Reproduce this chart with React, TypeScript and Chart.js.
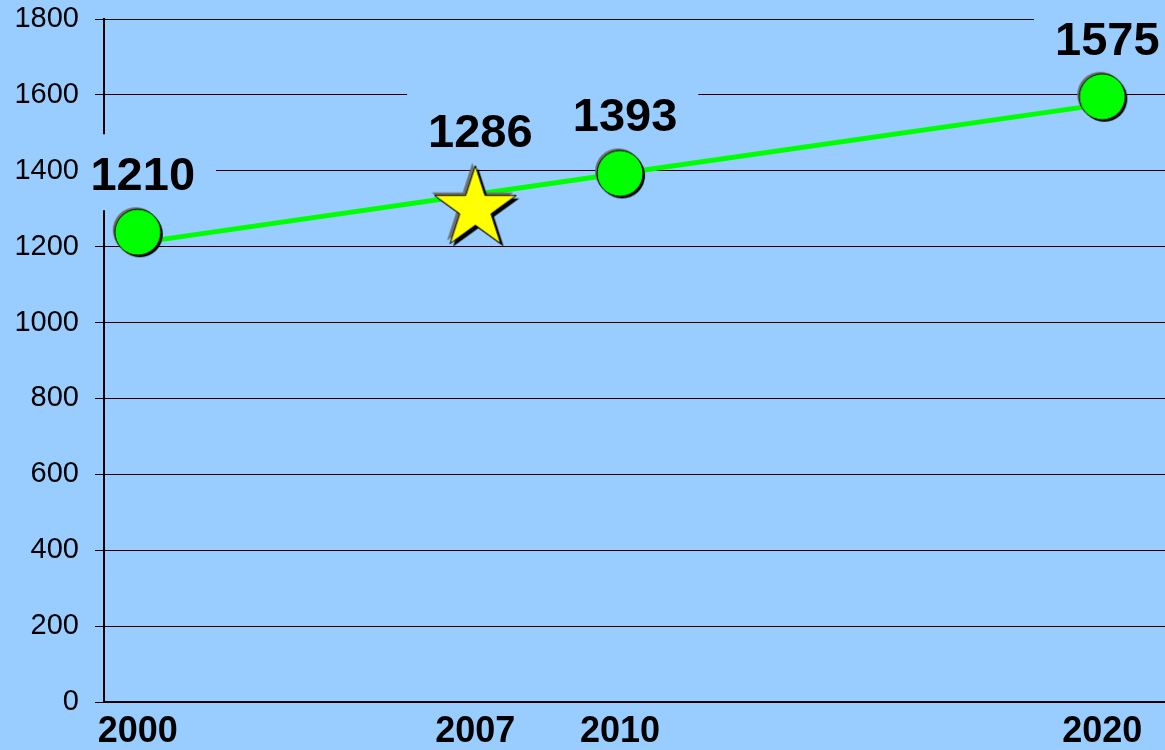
import React, { useEffect, useRef } from 'react';
import { Chart, registerables } from 'chart.js';

Chart.register(...registerables);

// ---- data ----
const lineYears = [2000, 2010, 2020];
const lineValues = [1210, 1393, 1575];
const markerYears = [2000, 2007, 2010, 2020];
const markerValues = [1238, 1300, 1393, 1595];
const markerKinds = ['circle', 'star', 'circle', 'circle'];
const valueLabels = ['1210', '1286', '1393', '1575'];
const xTickYears = [2000, 2007, 2010, 2020];
const yMin = 0;
const yMax = 1800;
const yStep = 200;

// ---- style ----
const BG = '#99CCFF';
const FONT = '"Liberation Sans", Arial, Helvetica, sans-serif';
const CIRCLE_R = 23;
const STAR_R = 43;

function makeCircle(r: number): HTMLCanvasElement {
  const c = document.createElement('canvas');
  const size = (r + 5) * 2;
  c.width = size;
  c.height = size;
  const ctx = c.getContext('2d')!;
  const m = size / 2;
  ctx.fillStyle = '#6e6e6e';
  ctx.beginPath();
  ctx.arc(m - 2, m - 2, r, 0, Math.PI * 2);
  ctx.fill();
  ctx.fillStyle = '#000';
  ctx.beginPath();
  ctx.arc(m + 2, m + 2, r, 0, Math.PI * 2);
  ctx.fill();
  ctx.fillStyle = '#00FF00';
  ctx.strokeStyle = '#000';
  ctx.lineWidth = 1;
  ctx.beginPath();
  ctx.arc(m, m, r, 0, Math.PI * 2);
  ctx.fill();
  ctx.stroke();
  return c;
}

function starPath(ctx: CanvasRenderingContext2D, cx: number, cy: number, R: number) {
  const r = R * 0.382;
  ctx.beginPath();
  for (let i = 0; i < 10; i++) {
    const rad = i % 2 === 0 ? R : r;
    const a = -Math.PI / 2 + (i * Math.PI) / 5;
    const x = cx + rad * Math.cos(a);
    const y = cy + rad * Math.sin(a);
    if (i === 0) ctx.moveTo(x, y);
    else ctx.lineTo(x, y);
  }
  ctx.closePath();
}

function makeStar(R: number): HTMLCanvasElement {
  const c = document.createElement('canvas');
  const size = (R + 6) * 2;
  c.width = size;
  c.height = size;
  const ctx = c.getContext('2d')!;
  const m = size / 2;
  ctx.fillStyle = '#6e6e6e';
  starPath(ctx, m - 3, m - 3, R);
  ctx.fill();
  ctx.fillStyle = '#000';
  starPath(ctx, m + 3, m + 3, R);
  ctx.fill();
  ctx.fillStyle = '#FFFF00';
  ctx.strokeStyle = '#000';
  ctx.lineWidth = 1;
  starPath(ctx, m, m, R);
  ctx.fill();
  ctx.stroke();
  return c;
}

const labelPlugin = {
  id: 'valueLabels',
  beforeDatasetsDraw(chart: any) {
    const meta = chart.getDatasetMeta(0);
    const ctx = chart.ctx as CanvasRenderingContext2D;
    const area = chart.chartArea;
    ctx.save();
    ctx.font = `bold 47px ${FONT}`;
    ctx.textAlign = 'center';
    ctx.textBaseline = 'alphabetic';
    const cap = 34;
    meta.data.forEach((pt: any, i: number) => {
      const text = valueLabels[i];
      const r = markerKinds[i] === 'star' ? STAR_R : CIRCLE_R;
      const x = pt.x + 5;
      const base = pt.y - r - 19;
      const w = ctx.measureText(text).width;
      const left = Math.max(x - w / 2 - 21, area.left - 11);
      const right = x + w / 2 + 21;
      ctx.fillStyle = BG;
      ctx.fillRect(left, base - cap - 22, right - left, cap + 42);
      ctx.fillStyle = '#000';
      ctx.fillText(text, x, base);
    });
    ctx.restore();
  },
};

export default function App() {
  const ref = useRef<HTMLCanvasElement>(null);

  useEffect(() => {
    const circle = makeCircle(CIRCLE_R);
    const star = makeStar(STAR_R);
    const styles = markerKinds.map((k) => (k === 'star' ? star : circle));

    const chart = new Chart(ref.current!, {
      type: 'scatter',
      data: {
        datasets: [
          {
            label: 'markers',
            data: markerYears.map((x, i) => ({ x, y: markerValues[i] })),
            pointStyle: styles as any,
            pointRadius: CIRCLE_R,
            showLine: false,
            clip: false,
            order: 0,
          },
          {
            label: 'line',
            data: lineYears.map((x, i) => ({ x, y: lineValues[i] })),
            showLine: true,
            borderColor: '#00FF00',
            borderWidth: 5,
            pointRadius: 0,
            tension: 0,
            order: 1,
          },
        ],
      },
      options: {
        responsive: false,
        animation: false,
        events: [],
        layout: { autoPadding: false, padding: { top: 19, left: 0, right: 0, bottom: 0 } },
        plugins: {
          legend: { display: false },
          tooltip: { enabled: false },
          title: { display: false },
        },
        scales: {
          x: {
            type: 'linear',
            min: 1999.3,
            max: 2021.3,
            afterBuildTicks: (s: any) => {
              s.ticks = xTickYears.map((v) => ({ value: v }));
            },
            afterFit: (s: any) => {
              s.height = 48;
              s.paddingLeft = 0;
              s.paddingRight = 0;
              s.paddingTop = 0;
              s.paddingBottom = 0;
            },
            grid: { display: false, drawTicks: false },
            border: { display: true, color: '#000', width: 2 },
            ticks: {
              autoSkip: false,
              maxRotation: 0,
              padding: 8,
              color: '#000',
              font: { family: FONT, size: 36, weight: 'bold' },
              callback: (v: any) => String(v),
            },
          },
          y: {
            type: 'linear',
            min: yMin,
            max: yMax,
            afterFit: (s: any) => {
              s.width = 104;
              s.paddingTop = 0;
              s.paddingBottom = 0;
              s.paddingLeft = 0;
              s.paddingRight = 0;
            },
            grid: { color: '#000', lineWidth: 1, tickLength: 9, drawTicks: true },
            border: { display: true, color: '#000', width: 2 },
            ticks: {
              stepSize: yStep,
              padding: 16,
              color: '#000',
              font: { family: FONT, size: 29 },
              callback: (v: any) => String(v),
            },
          },
        },
      },
      plugins: [labelPlugin],
    } as any);

    return () => chart.destroy();
  }, []);

  return (
    <div
      style={{
        position: 'absolute',
        left: 0,
        top: 0,
        width: 1165,
        height: 750,
        background: BG,
        overflow: 'hidden',
      }}
    >
      <canvas ref={ref} width={1165} height={750} style={{ display: 'block' }} />
    </div>
  );
}
